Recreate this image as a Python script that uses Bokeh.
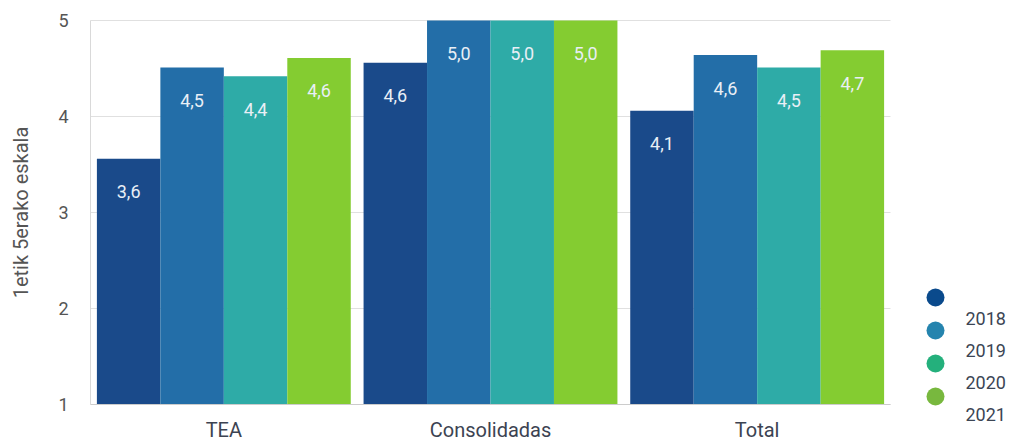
from math import pi
from bokeh.plotting import figure
from bokeh.models import ColumnDataSource, Range1d, FixedTicker
from bokeh.core.properties import value
from bokeh.embed import file_html
from bokeh.resources import INLINE

# ---- data ----
categories = ["TEA", "Consolidadas", "Total"]
years = ["2018", "2019", "2020", "2021"]
v2018 = [3.56, 4.56, 4.06]
v2019 = [4.51, 5.0, 4.64]
v2020 = [4.42, 5.0, 4.51]
v2021 = [4.61, 5.0, 4.69]
y_ticks = [1, 2, 3, 4, 5]
y_title = "1etik 5erako eskala"

series = [v2018, v2019, v2020, v2021]
bar_colors = ["#1a4a8a", "#236ea8", "#2eaba7", "#84cc31"]
legend_colors = ["#0a4a8c", "#2584ae", "#24b07c", "#78b83e"]

FONT = "Roboto"

# ---- layout (pixels) ----
W, H = 1010, 440
LEFT, TOP = 90, 20              # plot area origin
PLOT_W, PLOT_H = 800, 384       # area holding the bars (value 1..5)
PX_CAT = PLOT_W / len(categories)
PX_UNIT = PLOT_H / (y_ticks[-1] - y_ticks[0])


def px_to_x(px):
    return (px - LEFT) / PX_CAT


def px_to_y(py):
    return y_ticks[-1] - (py - TOP) / PX_UNIT


p = figure(x_range=Range1d(px_to_x(0), px_to_x(W)), y_range=Range1d(px_to_y(H), px_to_y(0)),
           width=W, height=H, output_backend="svg", toolbar_location=None,
           min_border_left=0, min_border_right=0, min_border_top=0, min_border_bottom=0)

cat_x = [i + 0.5 for i in range(len(categories))]
bar_w = 0.238
offsets = [-1.5 * bar_w, -0.5 * bar_w, 0.5 * bar_w, 1.5 * bar_w]
for i, vals in enumerate(series):
    src = ColumnDataSource(dict(x=[c + offsets[i] for c in cat_x], top=vals,
                                lab=[("%.1f" % v).replace(".", ",") for v in vals]))
    p.vbar(x="x", top="top", bottom=y_ticks[0], width=bar_w, source=src,
           fill_color=bar_colors[i], line_color=None)
    p.text(x="x", y="top", text="lab", source=src, y_offset=33,
           text_align="center", text_baseline="middle", text_color="#e9eff6",
           text_font=value(FONT), text_font_size="18px")

p.outline_line_color = None
p.xgrid.grid_line_color = None
p.ygrid.ticker = FixedTicker(ticks=y_ticks)
grid_bounds = (0, len(categories))
if "cross_bounds" in p.ygrid[0].properties():
    p.ygrid.grid_line_color = "#e0e0e0"
    p.ygrid.grid_line_width = 1
    p.ygrid.cross_bounds = grid_bounds
else:
    p.ygrid.grid_line_color = None
    p.segment(x0=[grid_bounds[0]] * len(y_ticks), x1=[grid_bounds[1]] * len(y_ticks),
              y0=y_ticks, y1=y_ticks, line_color="#e0e0e0", line_width=1)

p.yaxis.ticker = FixedTicker(ticks=y_ticks)
p.yaxis.bounds = (y_ticks[0], y_ticks[-1])
p.yaxis.fixed_location = 0
p.yaxis.major_label_text_font = FONT
p.yaxis.major_label_text_font_size = "18px"
p.yaxis.major_label_text_color = "#555555"
p.yaxis.major_label_standoff = 22
p.yaxis.axis_line_color = "#d9d9d9"

# y title, centred on the value 1..5 span
p.text(x=[px_to_x(20)], y=[(y_ticks[0] + y_ticks[-1]) / 2], text=[y_title], angle=pi / 2,
       text_align="center", text_baseline="middle", text_font=value(FONT),
       text_font_size="20px", text_color="#555555")

p.xaxis.ticker = FixedTicker(ticks=cat_x)
p.xaxis.major_label_overrides = {c: name for c, name in zip(cat_x, categories)}
p.xaxis.fixed_location = y_ticks[0]
p.xaxis.bounds = grid_bounds
p.xaxis.major_label_text_font = FONT
p.xaxis.major_label_text_font_size = "20px"
p.xaxis.major_label_text_color = "#3c4352"
p.xaxis.major_label_standoff = 13
p.xaxis.axis_line_color = "#cccccc"

for ax in (p.xaxis, p.yaxis):
    ax.major_tick_line_color = None
    ax.minor_tick_line_color = None
    ax.major_tick_out = 0
    ax.major_tick_in = 0
    ax.minor_tick_out = 0
    ax.minor_tick_in = 0

# ---- legend (dots and year labels, laid out as in the original) ----
idx = range(len(years))
dot_src = ColumnDataSource(dict(x=[px_to_x(935)] * len(years),
                                y=[px_to_y(297 + 33 * i) for i in idx], c=legend_colors))
p.scatter(x="x", y="y", size=18, fill_color="c", line_color=None, source=dot_src)
txt_src = ColumnDataSource(dict(x=[px_to_x(965)] * len(years),
                                y=[px_to_y(318 + 32 * i) for i in idx], t=years))
p.text(x="x", y="y", text="t", source=txt_src, text_align="left", text_baseline="middle",
       text_color="#3c4554", text_font=value(FONT), text_font_size="18px")

open("out.html", "w").write(file_html(p, INLINE))
